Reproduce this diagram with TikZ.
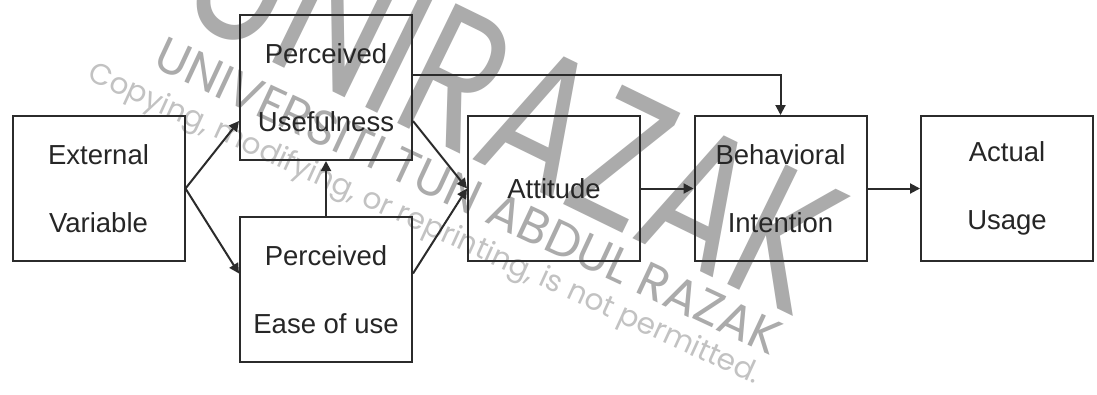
\documentclass[tikz,border=0pt]{standalone}
\usepackage{fontspec}
\setmainfont{Liberation Sans}
\newfontfamily\wmfont{Poppins}
\usetikzlibrary{arrows.meta,calc}
\definecolor{boxline}{HTML}{2B2B2B}
\definecolor{ink}{HTML}{262626}
\definecolor{wmdark}{HTML}{ABABAB}
\definecolor{wmlight}{HTML}{C2C2C2}
\begin{document}
\begin{tikzpicture}[x=1pt,y=-1pt,
  box/.style={draw=boxline, line width=2pt, minimum width=172pt,
    minimum height=145pt, inner sep=0pt, align=center, text=ink,
    font=\fontsize{27.5}{68}\selectfont},
  link/.style={draw=boxline, line width=2pt,
    -{Triangle[length=10pt,width=10pt]}},
  wmbig/.style={text=wmdark, inner sep=0pt, anchor=base,
    font=\wmfont\fontsize{147}{147}\selectfont},
  wmmid/.style={text=wmdark, inner sep=0pt, anchor=base,
    font=\wmfont\fontsize{49}{49}\selectfont},
  wmsmall/.style={text=wmlight, inner sep=0pt, anchor=base,
    font=\wmfont\fontsize{29.5}{29.5}\selectfont},
]
\useasboundingbox[fill=white] (0,0) rectangle (1097,394);

% watermark, behind the model
\node[wmbig, rotate=-26, yscale=1.3] (wmA) at (485,166) {UNIRAZAK};
\node[wmmid, rotate=-25] (wmB) at (461,211) {UNIVERSITI TUN ABDUL RAZAK};
\node[wmsmall, rotate=-24.5] (wmC) at (421,232) {Copying, modifying, or reprinting, is not permitted.};

% constructs of the technology acceptance model
\node[box] (ev)   at (98.5,188.5) {External\\Variable};
\node[box] (pu)   at (326,87.5)   {Perceived\\Usefulness};
\node[box] (peou) at (326,289.5)  {Perceived\\Ease of use};
\node[box] (att)  at (554,188.5)  {Attitude};
\node[box] (bi)   at (780.5,188.5){Behavioral\\Intention};
\node[box] (au)   at (1007,188.5) {Actual\\Usage};

% relations
\coordinate (puin)   at ($(pu.west)+(0,33.5)$);
\coordinate (peouin) at ($(peou.west)+(0,-16)$);
\coordinate (puout)  at ($(pu.east)+(0,33.5)$);
\coordinate (peouout)at ($(peou.east)+(0,-16)$);
\coordinate (putop)  at ($(pu.north east)+(0,60.5)$);
\draw[link] (ev.east) -- (puin);
\draw[link] (ev.east) -- (peouin);
\draw[link] (puout) -- (att.west);
\draw[link] (peouout) -- (att.west);
\draw[link] (peou.north) -- (pu.south);
\draw[link] (putop) -| (bi.north);
\draw[link] (att.east) -- (bi.west);
\draw[link] (bi.east) -- (au.west);
\end{tikzpicture}
\end{document}
